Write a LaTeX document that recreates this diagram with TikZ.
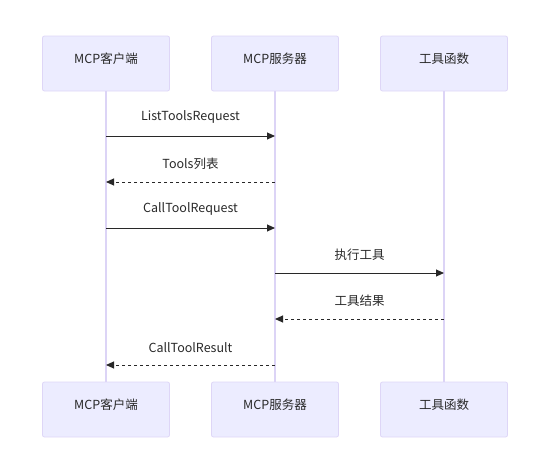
\documentclass[tikz,border=0pt]{standalone}
\usepackage{fontspec}
\setmainfont{Noto Sans CJK SC}
\definecolor{mmfill}{RGB}{236,236,255}
\definecolor{mmedge}{RGB}{222,214,247}
\definecolor{mmlife}{RGB}{220,212,246}
\definecolor{mmink}{RGB}{40,40,40}
\usetikzlibrary{arrows.meta,positioning}

\begin{document}
\begin{tikzpicture}[x=1pt,y=-1pt,font=\fontsize{12.5}{14}\selectfont,
  actor/.style={draw=mmedge,fill=mmfill,rounded corners=2pt,minimum width=127pt,minimum height=55pt,line width=0.8pt,text=mmink,text depth=10pt},
  life/.style={mmlife,line width=2pt},
  msg/.style={mmink,line width=1pt,-{Triangle[length=8pt,width=7pt]}},
  reply/.style={msg,dash pattern=on 3pt off 3pt},
  lbl/.style={midway,above=9pt,text=mmink}]
  \useasboundingbox (0,0) rectangle (550,474);
  % participants and lifelines
  \foreach \n/\x/\t in {c/106/MCP客户端, s/275/MCP服务器, f/444/工具函数}{
    \node[actor] (\n-top) at (\x,63.5) {\t};
    \node[actor] (\n-bot) at (\x,409.5) {\t};
    \draw[life] (\n-top) -- (\n-bot);
  }
  % message ends
  \foreach \i/\a/\b/\y in {1/c/s/136, 2/s/c/182, 3/c/s/228, 4/s/f/273, 5/f/s/319, 6/s/c/365}{
    \coordinate (from\i) at (\a-top.center |- 0,\y);
    \coordinate (to\i) at (\b-top.center |- 0,\y);
  }
  % messages
  \draw[msg] (from1) -- (to1) node[lbl] {ListToolsRequest};
  \draw[reply] (from2) -- (to2) node[lbl] {Tools列表};
  \draw[msg] (from3) -- (to3) node[lbl] {CallToolRequest};
  \draw[msg] (from4) -- (to4) node[lbl] {执行工具};
  \draw[reply] (from5) -- (to5) node[lbl] {工具结果};
  \draw[reply] (from6) -- (to6) node[lbl] {CallToolResult};
\end{tikzpicture}
\end{document}
